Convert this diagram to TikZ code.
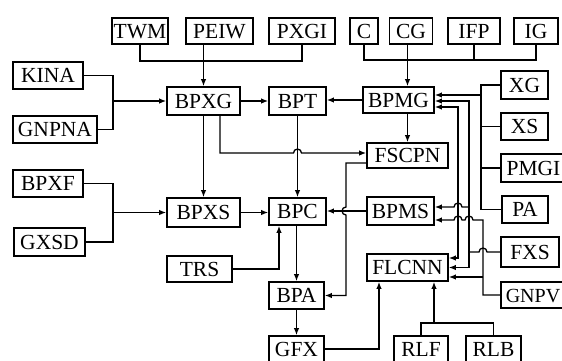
\documentclass[tikz,border=0pt]{standalone}
\usepackage{fontspec}
\setmainfont{Liberation Serif}
\usetikzlibrary{arrows.meta,calc}
\begin{document}
\begin{tikzpicture}[x=1pt,y=-1pt,
 bx/.style={draw, line width=1.7pt, inner sep=0pt, text height=14.2pt, text depth=0pt,
   font=\fontsize{21.5}{21.5}\selectfont},
 ln/.style={line width=1.3pt},
 ar/.style={ln, -{Latex[length=7pt,width=5.5pt]}},
 ab/.style={ln, {Latex[length=7pt,width=5.5pt]}-{Latex[length=7pt,width=5.5pt]}},
]
\useasboundingbox (0,0) rectangle (562,360);
\newcommand\bxn[6]{\node[bx, minimum width=#4pt, minimum height=#5pt] (#1) at (#2,#3) {#6};}
% top row
\bxn{TWM}{140}{31}{56}{26}{TWM}
\bxn{PEIW}{219.5}{31}{67}{26}{PEIW}
\bxn{PXGI}{302}{31}{66}{26}{PXGI}
\bxn{C}{364}{31}{28}{26}{C}
\bxn{CG}{411}{31}{43}{26}{CG}
\bxn{IFP}{474}{31}{52}{26}{IFP}
\bxn{IG}{536}{31}{44}{26}{IG}
% left
\bxn{KINA}{48}{75.5}{70}{27}{KINA}
\bxn{GNPNA}{55}{129.5}{84}{27}{GNPNA}
\bxn{BPXF}{48}{183.5}{70}{27}{BPXF}
\bxn{GXSD}{49.5}{242}{71}{28}{GXSD}
% middle
\bxn{BPXG}{203.5}{101}{73}{28}{BPXG}
\bxn{BPT}{297.5}{101}{57}{28}{BPT}
\bxn{BPMG}{398.5}{100}{71}{26}{BPMG}
\bxn{FSCPN}{407.5}{155.5}{81}{25}{FSCPN}
\bxn{BPXS}{203.5}{212.5}{73}{29}{BPXS}
\bxn{BPC}{297.5}{211.5}{57}{27}{BPC}
\bxn{BPMS}{400.5}{211}{67}{28}{BPMS}
\bxn{TRS}{199.5}{269}{65}{26}{TRS}
\bxn{FLCNN}{407.5}{267.5}{81}{27}{FLCNN}
\bxn{BPA}{296.5}{295.5}{55}{27}{BPA}
\bxn{GFX}{296.5}{349}{55}{26}{GFX}
\bxn{RLF}{421}{349}{54}{26}{RLF}
\bxn{RLB}{493.5}{349}{55}{26}{RLB}
% right
\bxn{XG}{524.5}{85}{47}{28}{XG}
\bxn{XS}{524.5}{126.5}{47}{27}{XS}
\bxn{PMGI}{533.5}{168}{65}{28}{PMGI}
\bxn{PA}{525}{209.5}{46}{27}{PA}
\bxn{FXS}{530}{252}{58}{30}{FXS}
\node[bx, minimum width=64pt, minimum height=26pt, font=\fontsize{20}{20}\selectfont]
  (GNPV) at (533,295) {GNPV};

% top buses
\draw[ln] (TWM.south) -- ++(0,16) -| (PXGI.south);
\draw[ar] (PEIW.south -| BPXG.north) -- (BPXG.north);
\draw[ln] (C.south) -- ++(0,15) -| (IG.south);
\draw[ln] (IFP.south) -- ++(0,15);
\draw[ar] (CG.south -| FSCPN.north) -- (FSCPN.north |- BPMG.north);
% left feeders
\coordinate (jL) at (113,0);
\draw[ln] (KINA.east) -| (jL |- GNPNA.east) -- (GNPNA.east);
\draw[ar] (BPXG.west -| jL) -- (BPXG.west);
\draw[ln] (BPXF.east) -| (jL |- GXSD.east) -- (GXSD.east);
\draw[ar] (BPXS.west -| jL) -- (BPXS.west);
% main flow
\draw[ar] (BPXG.east) -- (BPT.west);
\draw[ar] (BPMG.west) -- (BPMG.west -| BPT.east);
\draw[ar] (BPXG.south) -- (BPXS.north);
\draw[ar] (FSCPN.north |- BPMG.south) -- (FSCPN.north);
\draw[ar] (BPT.south) -- (BPC.north);
\draw[ar] (BPXS.east) -- (BPXS.east -| BPC.west);
\draw[ar] (BPMS.west) -- (BPMS.west -| BPC.east);
\draw[ar] (BPA.north |- BPC.south) -- (BPA.north);
\draw[ar] (BPA.south) -- (GFX.north);
\coordinate (xT) at (279,0);
\draw[ar] (TRS.east) -| (xT |- BPC.south);
\coordinate (h1) at (220,153);
\draw[ar] (BPXG.south -| h1) -- (h1) -- ($(BPT.south |- h1)+(-4,0)$)
  arc[start angle=180,end angle=0,radius=4pt] -- (FSCPN.west |- h1);
\coordinate (v1) at (346,163);
\draw[ar] (FSCPN.west |- v1) -- (v1) -- ($(v1 |- BPMS.west)+(0,-4)$)
  arc[start angle=90,end angle=270,radius=4pt] -- (v1 |- BPA.east) -- (BPA.east);
\coordinate (v2) at (379,0);
\draw[ar] (GFX.east) -| (v2 |- FLCNN.south);
\coordinate (rl) at (0,323);
\draw[ln] (RLF.north) -- (RLF.north |- rl) -| (RLB.north);
\coordinate (v3) at (434,323);
\draw[ar] (v3) -- (v3 |- FLCNN.south);
% right side
\coordinate (b1) at (481,0);
\draw[ln] (XG.west) -- (b1 |- XG.west) -- (b1 |- PA.west) -- (PA.west);
\draw[ln] (XS.west) -- (b1 |- XS.west);
\draw[ln] (PMGI.west) -- (b1 |- PMGI.west);
\coordinate (a1) at (481,95);
\draw[ar] (a1) -- (BPMG.east |- a1);
\coordinate (jF) at (469,252);
\coordinate (t2) at (469,101);
\coordinate (t3) at (458,107);
\coordinate (t4) at (458,258);
\draw[ln] (FXS.west) -- (487,252) arc[start angle=0,end angle=180,radius=4pt] -- (jF);
\draw[ar] (jF) -- (t2) -- (BPMG.east |- t2);
\draw[ar] (jF) -- (jF |- FLCNN.east) -- (FLCNN.east);
\coordinate (s1) at (469,207);
\draw[ar] (s1) -- (462,207) arc[start angle=0,end angle=180,radius=4pt] -- (BPMS.east |- s1);
\draw[ab] (BPMG.east |- t3) -- (t3) -- (t4) -- (FLCNN.east |- t4);
\coordinate (g1) at (483,220);
\draw[ar] (GNPV.west) -- (g1 |- GNPV.west) -- (g1) -- (473,220)
  arc[start angle=0,end angle=180,radius=4pt] -- (462,220)
  arc[start angle=0,end angle=180,radius=4pt] -- (BPMS.east |- g1);
\coordinate (g2) at (483,277);
\draw[ar] (g2) -- (FLCNN.east |- g2);
\end{tikzpicture}
\end{document}
